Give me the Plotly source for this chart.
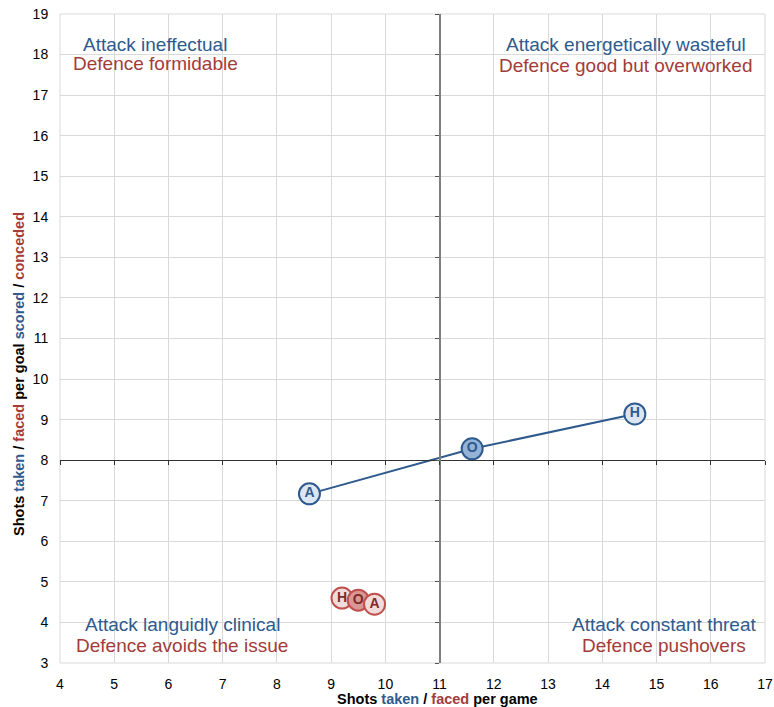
import plotly.graph_objects as go

# Data
attack_labels = ["A", "O", "H"]
attack_x = [8.6, 11.6, 14.6]
attack_y = [7.17, 8.28, 9.14]

defence_labels = ["H", "O", "A"]
defence_x = [9.2, 9.5, 9.8]
defence_y = [4.6, 4.55, 4.45]

x_ticks = list(range(4, 18))
y_ticks = list(range(3, 20))

# (attack text, defence text, x centre, y of attack line, y of defence line)
quadrants = [
    ("Attack ineffectual", "Defence formidable", 5.76, 18.26, 17.77),
    ("Attack energetically wasteful", "Defence good but overworked", 14.43, 18.26, 17.73),
    ("Attack languidly clinical", "Defence avoids the issue", 6.25, 3.96, 3.44),
    ("Attack constant threat", "Defence pushovers", 15.13, 3.96, 3.44),
]

BLUE = "#2e5a8e"
RED = "#a33b39"
FONT = "Liberation Sans, Arial, sans-serif"

W, H = 774, 707
L, R, T, B = 60, 9, 14, 44

fig = go.Figure()

fig.add_trace(go.Scatter(
    x=attack_x, y=attack_y, text=attack_labels,
    mode="lines+markers+text", textposition="middle center",
    line=dict(color=BLUE, width=2),
    marker=dict(size=21, color=["#dce6f2", "#95b3d7", "#dce6f2"],
                line=dict(color=BLUE, width=2)),
    textfont=dict(color=BLUE, size=14, family=FONT, weight="bold"),
    showlegend=False, hoverinfo="skip",
))

fig.add_trace(go.Scatter(
    x=defence_x, y=defence_y, text=defence_labels,
    mode="markers+text", textposition="middle center",
    marker=dict(size=21, color=["#f2dcdb", "#d99694", "#f2dcdb"],
                line=dict(color="#c0504d", width=2)),
    textfont=dict(color="#7f2a28", size=14, family=FONT, weight="bold"),
    showlegend=False, hoverinfo="skip",
))

for a, d, x, ya, yd in quadrants:
    fig.add_annotation(x=x, y=ya, xref="x", yref="y", showarrow=False, text=a,
                       font=dict(size=19, family=FONT, color=BLUE))
    fig.add_annotation(x=x, y=yd, xref="x", yref="y", showarrow=False, text=d,
                       font=dict(size=19, family=FONT, color=RED))

xtitle = (f"<b>Shots <span style='color:{BLUE}'>taken</span> / "
          f"<span style='color:{RED}'>faced</span> per game</b>")
ytitle = (f"<b>Shots <span style='color:{BLUE}'>taken</span> / "
          f"<span style='color:{RED}'>faced</span> per goal "
          f"<span style='color:{BLUE}'>scored</span> / "
          f"<span style='color:{RED}'>conceded</span></b>")

pw, ph = W - L - R, H - T - B


def px_to_paper_x(px):
    return (px - L) / pw


def px_to_paper_y(py):
    return (H - B - py) / ph


fig.add_annotation(x=px_to_paper_x(437.5), y=px_to_paper_y(699), xref="paper", yref="paper",
                   xanchor="center", yanchor="middle",
                   showarrow=False, text=xtitle, font=dict(size=14.5, family=FONT, color="black"))
fig.add_annotation(x=px_to_paper_x(19), y=px_to_paper_y(374), xref="paper", yref="paper",
                   xanchor="center", yanchor="middle",
                   showarrow=False, text=ytitle, textangle=-90,
                   font=dict(size=14.5, family=FONT, color="black"))

fig.update_layout(
    width=W, height=H,
    margin=dict(l=L, r=R, t=T, b=B),
    paper_bgcolor="white", plot_bgcolor="white",
    font=dict(family=FONT, size=14, color="black"),
    xaxis=dict(range=[4, 17], tickvals=x_ticks, showgrid=True, gridcolor="#d9d9d9",
               gridwidth=1, zeroline=False, showline=False, automargin=False,
               ticks="outside", ticklen=8, tickcolor="rgba(0,0,0,0)",
               ticklabeloverflow="allow", tickfont=dict(size=14)),
    yaxis=dict(range=[3, 19], tickvals=y_ticks, showgrid=True, gridcolor="#d9d9d9",
               gridwidth=1, zeroline=False, showline=False, automargin=False,
               ticks="outside", ticklen=8, tickcolor="rgba(0,0,0,0)",
               ticklabeloverflow="allow", tickfont=dict(size=14)),
    xaxis2=dict(range=[4, 17], tickvals=x_ticks, overlaying="x", anchor="free",
                position=5 / 16, side="bottom", showline=True, linecolor="#333333",
                linewidth=1, ticks="outside", ticklen=4, tickcolor="#333333",
                showticklabels=False, showgrid=False, zeroline=False, automargin=False),
    yaxis2=dict(range=[3, 19], tickvals=y_ticks, overlaying="y", anchor="free",
                position=7 / 13, side="left", showline=True, linecolor="#7f7f7f",
                linewidth=2, ticks="outside", ticklen=4, tickcolor="#555555",
                showticklabels=False, showgrid=False, zeroline=False, automargin=False),
)

# dummy invisible trace to activate the central axes
fig.add_trace(go.Scatter(x=[None], y=[None], xaxis="x2", yaxis="y2",
                         showlegend=False, hoverinfo="skip"))

# border at plot edges
fig.add_shape(type="rect", xref="paper", yref="paper", x0=0, y0=0, x1=1, y1=1,
              line=dict(color="#d9d9d9", width=1), layer="below")

fig.write_html(
    "out.html",
    config={"displayModeBar": False},
    post_script="document.body.style.margin='0';document.body.style.overflow='hidden';"
                "document.documentElement.style.overflow='hidden';",
)
